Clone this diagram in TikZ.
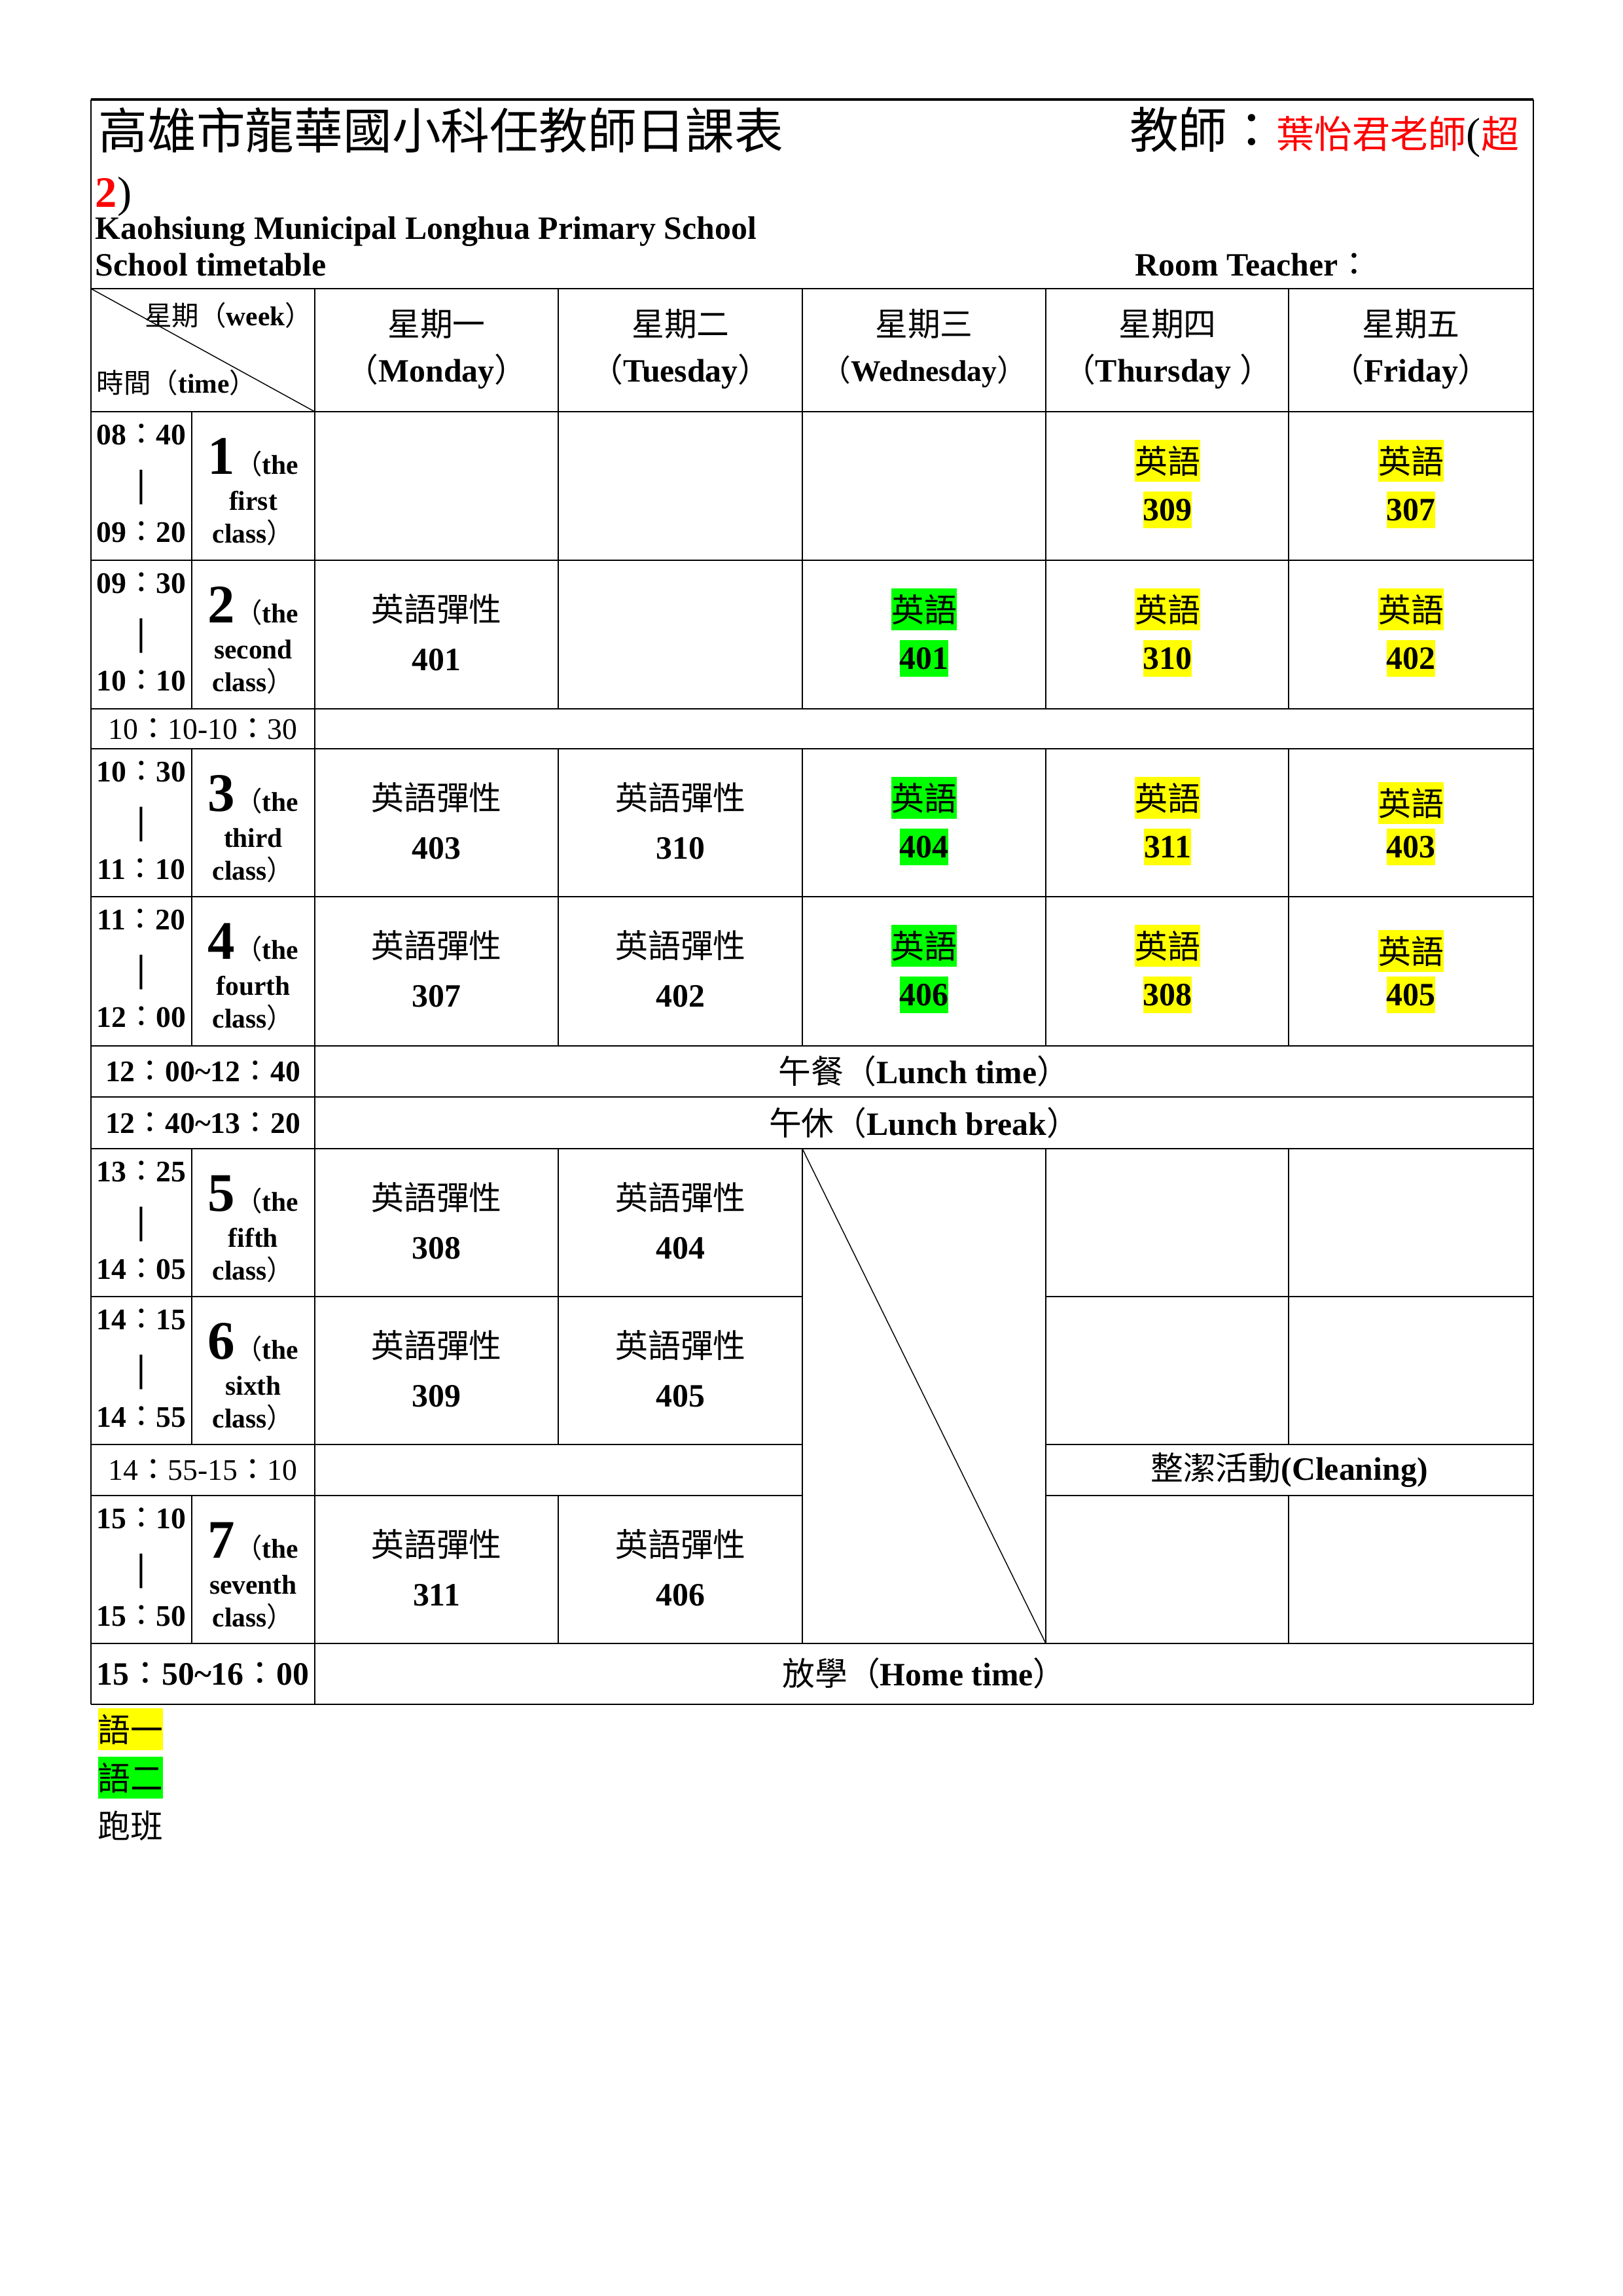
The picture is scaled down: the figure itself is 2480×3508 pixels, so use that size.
\documentclass[tikz,border=0pt]{standalone}
\usepackage{fontspec}
\setmainfont{Liberation Serif}
\newfontfamily\cjk{Noto Sans CJK TC}

\definecolor{hlyellow}{RGB}{255,255,0}
\definecolor{hlgreen}{RGB}{0,255,0}
\definecolor{tred}{RGB}{255,0,0}

\newcommand{\zh}[1]{{\cjk\mdseries #1}}
\newcommand{\fsz}[1]{\fontsize{#1}{#1}\selectfont}
\newcommand{\hhmm}[2]{#1\zh{：}#2}

\begin{document}
\begin{tikzpicture}[%
  x=0.0846774mm, y=-0.0846774mm,
  frame/.style={line width=0.75pt},
  hline/.style={line width=0.6pt},
  vline/.style={line width=0.5pt},
  diag/.style={line width=0.35pt},
  celltxt/.style={inner sep=0pt, font=\fsz{12}\bfseries},
  timetxt/.style={inner sep=0pt, font=\fsz{11}\bfseries},
  pertxt/.style={inner sep=0pt, font=\fsz{10}\bfseries},
  bar/.style={inner sep=0pt, font=\fsz{14}\bfseries},
  hlword/.style={inner sep=0pt, minimum height=15.6pt, font=\fsz{12}},
  hlroom/.style={inner sep=0pt, minimum height=13.4pt, font=\fsz{12}\bfseries}
]

  \useasboundingbox (0,0) rectangle (2480,3508);

  % grid of the table
  \foreach \n/\v in {0/139,1/293,2/481,3/853,4/1226,5/1598,6/1969,7/2343}
    \coordinate (c\n) at (\v,0);
  \foreach \n/\v in {0/152,1/441,2/629,3/856,4/1083,5/1144,6/1370,7/1598,
                     8/1676,9/1755,10/1981,11/2207,12/2285,13/2511,14/2604}
    \coordinate (r\n) at (0,\v);

  \draw[frame] (c0|-r0) -- (c7|-r0);
  \foreach \n in {1,...,9,13,14}
    \draw[hline] (c0|-r\n) -- (c7|-r\n);
  \foreach \n in {10,11,12} {
    \draw[hline] (c0|-r\n) -- (c4|-r\n);
    \draw[hline] (c5|-r\n) -- (c7|-r\n);
  }

  \draw[vline] (c0|-r0) -- (c0|-r14);
  \draw[vline] (c7|-r0) -- (c7|-r14);
  \draw[vline] (c2|-r1) -- (c2|-r14);
  \foreach \c in {1,3,6} {
    \draw[vline] (c\c|-r\ifnum\c=1 2\else 1\fi) -- (c\c|-r4);
    \draw[vline] (c\c|-r5) -- (c\c|-r7);
    \draw[vline] (c\c|-r9) -- (c\c|-r11);
    \draw[vline] (c\c|-r12) -- (c\c|-r13);
  }
  \foreach \c in {4,5} {
    \draw[vline] (c\c|-r1) -- (c\c|-r4);
    \draw[vline] (c\c|-r5) -- (c\c|-r7);
    \draw[vline] (c\c|-r9) -- (c\c|-r13);
  }

  \draw[diag] (c0|-r1) -- (c2|-r2);
  \draw[diag] (c4|-r9) -- (c5|-r13);

  % heading
  \node[anchor=base west, inner sep=0pt, font=\fsz{18}] (title) at (150,227)
    {\zh{高雄市龍華國小科任教師日課表}};
  \node[anchor=base east, inner sep=0pt] (teacher) at (2322,226)
    {{\fsz{18}\zh{教師：}}{\fsz{14}\color{tred}\zh{葉怡君老師}}{\fsz{16}(}{\fsz{14}\color{tred}\zh{超}}};
  \node[anchor=base west, inner sep=0pt, font=\fsz{16}] (cont) at (145,316)
    {{\bfseries\color{tred}2})};
  \node[anchor=base west, inner sep=0pt, font=\fsz{12}\bfseries] (school) at (145,365)
    {Kaohsiung Municipal Longhua Primary School};
  \node[anchor=base west, inner sep=0pt, font=\fsz{12}\bfseries] (sheet) at (145,421)
    {School timetable};
  \node[anchor=base west, inner sep=0pt, font=\fsz{12}\bfseries] (room) at (1734,421)
    {Room Teacher\zh{：}};

  % corner and days
  \node[pertxt, anchor=east] (week) at (478,482) {\zh{星期（}week\zh{）}};
  \node[pertxt, anchor=west] (time) at (147,585) {\zh{時間（}time\zh{）}};

  \foreach \nm/\cx/\zhd/\en/\s in {mon/667/一/Monday/12, tue/1040/二/Tuesday/12,
      wed/1412/三/Wednesday/11, thu/1784/四/Thursday\ /12, fri/2156/五/Friday/12}
  {
    \node[celltxt] (\nm-zh) at (\cx,495) {\zh{星期\zhd}};
    \node[celltxt, font=\fsz{\s}\bfseries] (\nm-en) at (\cx,568) {\zh{（}\en\zh{）}};
  }

  % periods
  \foreach \p/\top/\ta/\tb/\tc/\td/\w in {1/629/08/40/09/20/first,
      2/856/09/30/10/10/second, 3/1144/10/30/11/10/third,
      4/1370/11/20/12/00/fourth, 5/1755/13/25/14/05/fifth,
      6/1981/14/15/14/55/sixth, 7/2285/15/10/15/50/seventh}
  {
    \node[timetxt, anchor=base] (from\p) at (216,\top+50) {\hhmm{\ta}{\tb}};
    \node[bar] (bar\p) at (216,\top+116) {|};
    \node[timetxt, anchor=base] (to\p) at (216,\top+199) {\hhmm{\tc}{\td}};
    \node[pertxt, anchor=base] (num\p) at (387,\top+95) {{\fsz{20}\p}\zh{（}the};
    \node[pertxt, anchor=base] (ord\p) at (387,\top+150) {\w};
    \node[pertxt, anchor=base] (cls\p) at (387,\top+200) {class\zh{）}};
  }

  % breaks
  \node[timetxt, font=\fsz{11}] (brk) at (310,1114) {\hhmm{10}{10}-\hhmm{10}{30}};
  \node[timetxt] (lunch) at (310,1637) {\hhmm{12}{00}\textasciitilde\hhmm{12}{40}};
  \node[celltxt] (lunch-t) at (1412,1637) {\zh{午餐（}Lunch time\zh{）}};
  \node[timetxt] (nap) at (310,1716) {\hhmm{12}{40}\textasciitilde\hhmm{13}{20}};
  \node[celltxt] (nap-t) at (1412,1716) {\zh{午休（}Lunch break\zh{）}};
  \node[timetxt, font=\fsz{11}] (clean) at (310,2246) {\hhmm{14}{55}-\hhmm{15}{10}};
  \node[celltxt] (clean-t) at (1970,2246) {\zh{整潔活動}(Cleaning)};
  \node[celltxt] (home) at (310,2557) {\hhmm{15}{50}\textasciitilde\hhmm{16}{00}};
  \node[celltxt] (home-t) at (1412,2557) {\zh{放學（}Home time\zh{）}};

  % lessons
  \foreach \nm/\top/\cx/\room in {mon2/856/667/401, mon3/1144/667/403,
      tue3/1144/1040/310, mon4/1370/667/307, tue4/1370/1040/402,
      mon5/1755/667/308, tue5/1755/1040/404, mon6/1981/667/309,
      tue6/1981/1040/405, mon7/2285/667/311, tue7/2285/1040/406}
  {
    \node[celltxt] (\nm-s) at (\cx,\top+74) {\zh{英語彈性}};
    \node[celltxt] (\nm-r) at (\cx,\top+152) {\room};
  }

  \foreach \nm/\top/\cx/\room/\clr/\dy in {thu1/629/1784/309/hlyellow/0,
      fri1/629/2156/307/hlyellow/0, wed2/856/1412/401/hlgreen/0,
      thu2/856/1784/310/hlyellow/0, fri2/856/2156/402/hlyellow/0,
      wed3/1144/1412/404/hlgreen/0, thu3/1144/1784/311/hlyellow/0,
      fri3/1144/2156/403/hlyellow/8, wed4/1370/1412/406/hlgreen/0,
      thu4/1370/1784/308/hlyellow/0, fri4/1370/2156/405/hlyellow/8}
  {
    \node[hlword, fill=\clr] (\nm-s) at (\cx,\top+75+\dy) {\zh{英語}};
    \node[hlroom, fill=\clr] (\nm-r) at (\cx,\top+150) {\room};
  }

  % legend
  \node[hlword, anchor=west, fill=hlyellow] (leg1) at (149,2642) {\zh{語一}};
  \node[hlword, anchor=west, fill=hlgreen] (leg2) at (149,2716) {\zh{語二}};
  \node[hlword, anchor=west] (leg3) at (149,2790) {\zh{跑班}};

\end{tikzpicture}
\end{document}
